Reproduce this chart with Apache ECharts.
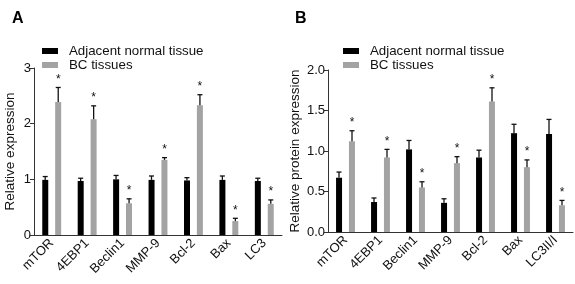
<!DOCTYPE html>
<html>
<head>
<meta charset="utf-8">
<script src="https://cdn.jsdelivr.net/npm/echarts@6/dist/echarts.min.js"></script>
<style>
  html, body { margin: 0; padding: 0; background: #fff; }
  #chart { width: 575px; height: 284px; }
</style>
</head>
<body>
<div id="chart"></div>
<script>
var genesA = ['mTOR', '4EBP1', 'Beclin1', 'MMP-9', 'Bcl-2', 'Bax', 'LC3'];
var normalA = [0.99, 0.97, 1.00, 0.99, 0.98, 0.99, 0.97];
var normalErrA = [0.06, 0.05, 0.07, 0.07, 0.05, 0.07, 0.05];
var bcA = [2.39, 2.08, 0.57, 1.35, 2.33, 0.25, 0.56];
var bcErrA = [0.26, 0.24, 0.08, 0.04, 0.19, 0.05, 0.07];
var starA = [1, 1, 1, 1, 1, 1, 1];

var genesB = ['mTOR', '4EBP1', 'Beclin1', 'MMP-9', 'Bcl-2', 'Bax', 'LC3II/I'];
var normalB = [0.67, 0.37, 1.02, 0.36, 0.92, 1.22, 1.21];
var normalErrB = [0.07, 0.05, 0.11, 0.05, 0.09, 0.11, 0.18];
var bcB = [1.12, 0.92, 0.55, 0.85, 1.61, 0.80, 0.33];
var bcErrB = [0.13, 0.10, 0.07, 0.08, 0.17, 0.09, 0.06];
var starB = [1, 1, 1, 1, 1, 1, 1];

var yTicksA = [0, 3, 1];   // min, max, interval
var yTicksB = [0, 2, 0.5];

var chart = echarts.init(document.getElementById('chart'));
var font = 'Liberation Sans, Arial, sans-serif';

// error bar (upper half only) + optional asterisk
function errSeries(name, axisIdx, vals, errs, stars, shift) {
	var data = vals.map(function(v, i) {
		return [i, v, v + errs[i], stars ? stars[i] : 0];
	});
	return {
		type: 'custom',
		name: name,
		xAxisIndex: axisIdx,
		yAxisIndex: axisIdx,
		silent: true,
		z: 5,
		data: data,
		renderItem: function(params, api) {
			var base = api.coord([api.value(0), api.value(1)]);
			var top = api.coord([api.value(0), api.value(2)]);
			var x = base[0] + shift;
			var children = [
				{ type: 'line', shape: { x1: x, y1: base[1], x2: x, y2: top[1] }, style: { stroke: '#111', lineWidth: 1.3 } },
				{ type: 'line', shape: { x1: x - 2.5, y1: top[1], x2: x + 2.5, y2: top[1] }, style: { stroke: '#111', lineWidth: 1.3 } }
			];
			if (api.value(3)) {
				children.push({
					type: 'text',
					style: { text: '*', x: x, y: top[1] - 2, textAlign: 'center', textVerticalAlign: 'bottom', font: '12px ' + font, fill: '#111' }
				});
			}
			return { type: 'group', children: children };
		}
	};
}

function xAxisCfg(idx, cats) {
	return {
		type: 'category',
		gridIndex: idx,
		data: cats,
		boundaryGap: true,
		axisLine: { lineStyle: { color: '#333', width: 1 } },
		axisTick: { alignWithLabel: true, length: 4, lineStyle: { color: '#333' } },
		axisLabel: { rotate: 45, color: '#111', fontSize: 13, fontFamily: font, margin: 6 }
	};
}

function yAxisCfg(idx, name, ticks, gap, fmt) {
	return {
		type: 'value',
		gridIndex: idx,
		min: ticks[0], max: ticks[1], interval: ticks[2],
		name: name,
		nameLocation: 'middle',
		nameGap: gap,
		nameTextStyle: { color: '#111', fontSize: 13.5, fontFamily: font },
		splitLine: { show: false },
		axisLine: { show: true, lineStyle: { color: '#333', width: 1 } },
		axisTick: { show: true, length: 4, lineStyle: { color: '#333' } },
		axisLabel: { color: '#111', fontSize: 13, fontFamily: font, margin: 3, formatter: fmt }
	};
}

function barSeries(name, idx, vals, color) {
	return {
		type: 'bar',
		name: name,
		xAxisIndex: idx,
		yAxisIndex: idx,
		data: vals,
		barWidth: 6,
		barGap: '115%',
		itemStyle: { color: color }
	};
}

var option = {
	animation: false,
	backgroundColor: '#fff',
	textStyle: { fontFamily: font },
	title: [
		{ text: 'A', left: 7, top: 6, textStyle: { fontSize: 16, fontWeight: 'bold', color: '#000', fontFamily: font } },
		{ text: 'B', left: 290, top: 6, textStyle: { fontSize: 16, fontWeight: 'bold', color: '#000', fontFamily: font } }
	],
	legend: [
		{
			orient: 'vertical', left: 37, top: 39, itemWidth: 16, itemHeight: 6, itemGap: 0,
			icon: 'rect',
			data: ['Adjacent normal tissue', 'BC tissues'],
			textStyle: { fontSize: 13.3, color: '#111', fontFamily: font, lineHeight: 14, padding: [0, 0, 0, 6] }
		},
		{
			orient: 'vertical', left: 338, top: 39, itemWidth: 16, itemHeight: 6, itemGap: 0,
			icon: 'rect',
			data: ['Adjacent normal tissue ', 'BC tissues '],
			textStyle: { fontSize: 13.3, color: '#111', fontFamily: font, lineHeight: 14, padding: [0, 0, 0, 6] }
		}
	],
	grid: [
		{ left: 34, top: 68, width: 248, height: 167 },
		{ left: 328, top: 70, width: 245, height: 162 }
	],
	xAxis: [xAxisCfg(0, genesA), xAxisCfg(1, genesB)],
	yAxis: [
		yAxisCfg(0, 'Relative expression', yTicksA, 17, function(v) { return v; }),
		yAxisCfg(1, 'Relative protein expression', yTicksB, 26, function(v) { return v.toFixed(1); })
	],
	series: [
		barSeries('Adjacent normal tissue', 0, normalA, '#000'),
		barSeries('BC tissues', 0, bcA, '#a3a3a3'),
		errSeries('errA1', 0, normalA, normalErrA, null, -6.5),
		errSeries('errA2', 0, bcA, bcErrA, starA, 6.5),
		barSeries('Adjacent normal tissue ', 1, normalB, '#000'),
		barSeries('BC tissues ', 1, bcB, '#a3a3a3'),
		errSeries('errB1', 1, normalB, normalErrB, null, -6.5),
		errSeries('errB2', 1, bcB, bcErrB, starB, 6.5)
	]
};
chart.setOption(option);
</script>
</body>
</html>
